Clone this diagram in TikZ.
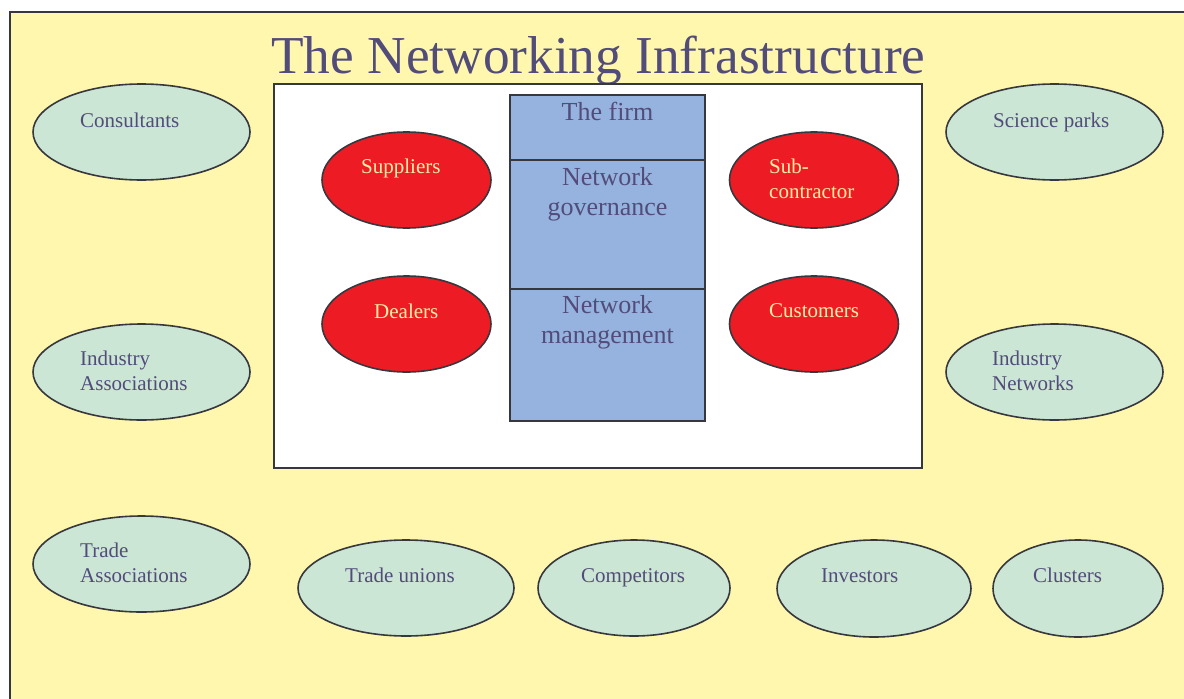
\documentclass[tikz,border=0pt]{standalone}
\usepackage{fontspec}
\setmainfont{Liberation Serif}
\usetikzlibrary{shapes.geometric}
\definecolor{bgyellow}{RGB}{255,247,174}
\definecolor{txt}{RGB}{82,76,122}
\definecolor{grn}{RGB}{203,230,212}
\definecolor{redf}{RGB}{237,28,36}
\definecolor{redtxt}{RGB}{255,240,165}
\definecolor{blu}{RGB}{149,179,222}
\definecolor{edge}{RGB}{55,55,62}
\begin{document}
\begin{tikzpicture}[x=1pt,y=-1pt,
  greenell/.style={ellipse, draw=edge, line width=1.6pt, fill=grn, inner sep=0pt},
  redell/.style={ellipse, draw=edge, line width=1.6pt, fill=redf, inner sep=0pt, minimum width=169pt, minimum height=96pt},
  bluebox/.style={rectangle, draw=edge, line width=1.6pt, fill=blu, inner sep=0pt, minimum width=195pt},
  gtext/.style={anchor=base west, inner sep=0pt, text=txt, font=\fontsize{21}{25}\selectfont, align=left},
  rtext/.style={anchor=base west, inner sep=0pt, text=redtxt, font=\fontsize{21}{25}\selectfont, align=left},
  btext/.style={anchor=base, inner sep=0pt, text=txt, font=\fontsize{26}{30}\selectfont, align=center}]
\useasboundingbox (0,0) rectangle (1184,699);
\fill[white] (0,0) rectangle (1184,699);
\fill[bgyellow] (10,12) rectangle (1184,699);
\draw[edge, line width=1.6pt] (10,699) -- (10,12) -- (1184,12);
% title
\node[anchor=base, inner sep=0pt, text=txt, font=\fontsize{53.3}{60}\selectfont] (title) at (598.5,73) {The Networking Infrastructure};
% white box
\node[rectangle, draw=edge, line width=1.6pt, fill=white, minimum width=648pt, minimum height=384pt, inner sep=0pt] (core) at (598,276) {};
% blue column
\node[bluebox, minimum height=65pt] (firm) at (607.5,127.5) {};
\node[bluebox, minimum height=129pt] (gov) at (607.5,224.5) {};
\node[bluebox, minimum height=132pt] (mgmt) at (607.5,355) {};
\node[btext] (firmt) at (607.5,120) {The firm};
\node[btext] (govt) at (607.5,215) {Network\\governance};
\node[btext] (mgmtt) at (607.5,343) {Network\\management};
% red ellipses
\node[redell] (sup) at (406.5,180) {};
\node[redell] (deal) at (406.5,324) {};
\node[redell] (sub) at (814,180) {};
\node[redell] (cust) at (814,324) {};
\node[rtext] (supt) at (361,173) {Suppliers};
\node[rtext] (dealt) at (374,318) {Dealers};
\node[rtext] (subt) at (769,198) {Sub-\\contractor};
\node[rtext] (custt) at (769,317) {Customers};
% green ellipses
\node[greenell, minimum width=217pt, minimum height=96pt] (cons) at (141.5,132) {};
\node[greenell, minimum width=217pt, minimum height=96pt] (sci) at (1054.5,132) {};
\node[greenell, minimum width=217pt, minimum height=96pt] (ia) at (141.5,372) {};
\node[greenell, minimum width=217pt, minimum height=96pt] (inet) at (1054.5,372) {};
\node[greenell, minimum width=217pt, minimum height=96pt] (ta) at (141.5,564) {};
\node[greenell, minimum width=216pt, minimum height=96pt] (tu) at (406,588) {};
\node[greenell, minimum width=192pt, minimum height=96pt] (comp) at (634,588) {};
\node[greenell, minimum width=194pt, minimum height=97pt] (inv) at (874,588.5) {};
\node[greenell, minimum width=170pt, minimum height=97pt] (clus) at (1078,588.5) {};
\node[gtext] (const) at (80,127) {Consultants};
\node[gtext] (scit) at (993,127) {Science parks};
\node[gtext] (iat) at (80,390) {Industry\\Associations};
\node[gtext] (inett) at (992,390) {Industry\\Networks};
\node[gtext] (tat) at (80,582) {Trade\\Associations};
\node[gtext] (tut) at (345,582) {Trade unions};
\node[gtext] (compt) at (581,582) {Competitors};
\node[gtext] (invt) at (821,582) {Investors};
\node[gtext] (clust) at (1033,582) {Clusters};
\end{tikzpicture}
\end{document}
